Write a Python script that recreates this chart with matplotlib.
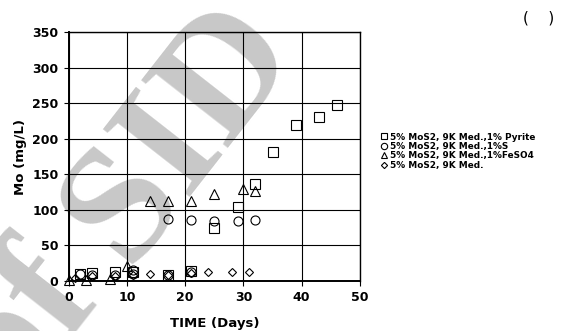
import matplotlib
matplotlib.use('Agg')
import matplotlib.pyplot as plt

# Mo release (mg/L) vs time (days) for each leaching medium
pyrite_days = [2, 4, 8, 11, 17, 21, 25, 29, 32, 35, 39, 43, 46]
pyrite_mo = [10, 11, 12, 13, 8, 14, 75, 104, 137, 182, 219, 231, 247]

sulfur_days = [2, 4, 8, 11, 11, 17, 17, 21, 21, 25, 29, 32]
sulfur_mo = [10, 8, 8, 16, 10, 9, 87, 12, 86, 84, 84, 86]

feso4_days = [0, 3, 7, 10, 14, 17, 21, 25, 30, 32]
feso4_mo = [1, 2, 3, 21, 113, 113, 112, 122, 130, 126]

med_days = [1, 4, 8, 11, 14, 17, 21, 24, 28, 31]
med_mo = [4, 7, 7, 9, 10, 8, 11, 12, 12, 13]

labels = ['5% MoS2, 9K Med.,1% Pyrite',
          '5% MoS2, 9K Med.,1%S',
          '5% MoS2, 9K Med.,1%FeSO4',
          '5% MoS2, 9K Med.']

plt.rcParams['font.family'] = ['DejaVu Sans']

fig = plt.figure(figsize=(5.64, 3.31), dpi=100)
ax = fig.add_axes([0.122, 0.151, 0.516, 0.752])
ax.patch.set_alpha(0)

# grey diagonal stamp behind the plot
wm = dict(rotation=52, rotation_mode='anchor', fontsize=120, color='#c8c8c8',
          family='Liberation Serif', fontweight='bold', va='baseline', zorder=-5)
fig.text(0.225, 0.195, 'Archive of ', ha='right', **wm)
fig.text(0.225, 0.195, 'SID', ha='left', **wm)

mk = dict(linestyle='none', markerfacecolor='none', markeredgecolor='black',
          markeredgewidth=0.8, clip_on=False, zorder=4)
ax.plot(pyrite_days, pyrite_mo, marker='s', markersize=6.5, label=labels[0], **mk)
ax.plot(sulfur_days, sulfur_mo, marker='o', markersize=6.5, label=labels[1], **mk)
ax.plot(feso4_days, feso4_mo, marker='^', markersize=6.5, label=labels[2], **mk)
ax.plot(med_days, med_mo, marker='D', markersize=4.5, label=labels[3], **mk)

ax.set_xlim(0, 50)
ax.set_ylim(0, 350)
ax.set_xticks(range(0, 51, 10))
ax.set_yticks(range(0, 351, 50))
ax.grid(True, color='black', linewidth=0.8)
ax.set_axisbelow(True)
for s in ax.spines.values():
    s.set_linewidth(1.0)
ax.spines['left'].set_linewidth(1.4)
ax.spines['bottom'].set_linewidth(1.4)
ax.tick_params(direction='out', length=3.5, width=0.8, labelsize=9, pad=4)
for t in ax.get_xticklabels() + ax.get_yticklabels():
    t.set_fontweight('bold')

ax.set_xlabel('TIME (Days)', fontsize=9.5, fontweight='bold', labelpad=9)
ax.set_ylabel('Mo (mg/L)', fontsize=9.5, fontweight='bold', labelpad=4)

h, l = ax.get_legend_handles_labels()
leg = fig.legend(h, l, loc='upper left', bbox_to_anchor=(0.667, 0.613),
                 frameon=False, prop={'size': 6.4, 'weight': 'bold'},
                 handlelength=0.8, handletextpad=0.3, labelspacing=0.05,
                 markerscale=0.7, borderpad=0)

fig.text(0.955, 0.945, '(    )', fontsize=11, ha='center', va='center')

fig.savefig('out.png', dpi=100)
